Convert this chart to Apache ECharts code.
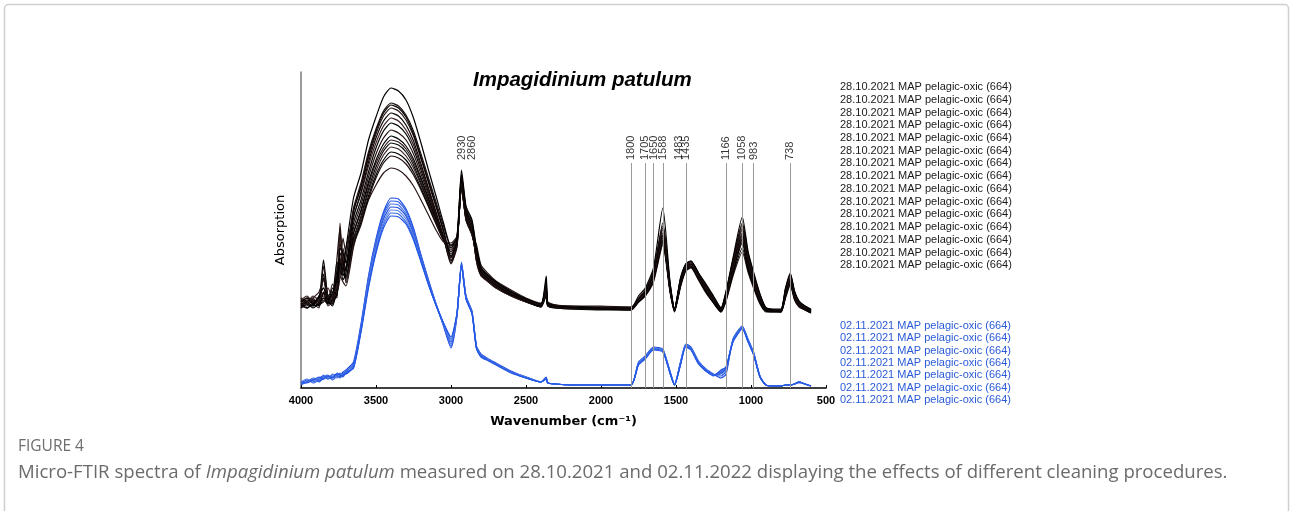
<!DOCTYPE html>
<html><head><meta charset="utf-8">
<script src="https://cdn.jsdelivr.net/npm/echarts@6/dist/echarts.min.js"></script>
<style>html,body{margin:0;padding:0;background:#fff;} #chart{width:1290px;height:511px;}</style>
</head><body><div id="chart"></div>
<script>
// Wavenumber grid (cm-1), shared by all spectra
const wavenumbers = [4000,3960,3920,3880,3850,3820,3790,3760,3740,3720,3700,
  3650,3600,3550,3500,3450,3400,3350,3300,3250,3200,3150,3100,3050,3000,
  2960,2930,2900,2860,2830,2800,2750,2700,2600,2500,2400,2365,2355,2300,2200,2000,1800,
  1750,1705,1650,1588,1540,1510,1470,1435,1400,1350,1300,1250,1200,1166,1120,1058,1020,983,940,900,850,800,770,738,710,680,640,600];

// 28.10.2021 spectra (arbitrary absorption units, stacked offset included)
const abs28_01 = [86,90,84,92,100,88,95,110,125,118,140,
  190,215,248,271,291,300,297,288,270,245,218,192,165,142,
  150,218,182,168,140,120,112,106,96,89,84,112,85,82,81,80,80,
  92,100,120,180,106,79,110,124,127,115,104,92,80,97,130,171,137,116,94,80,78,78,100,115,97,87,82,78];
const abs28_02 = [84,82,88,86,122,90,84,130,160,120,130,
  180,205,236,259,277,285,282,273,257,234,210,186,162,140,
  152,214,180,166,138,119,110,104,95,88,83,108,84,81,80,80,79,
  90,98,117,160,103,78,108,122,125,113,102,90,79,94,125,160,132,112,91,79,78,77,97,110,95,86,81,77];
const abs28_03 = [80,86,82,84,90,85,100,92,140,135,125,
  176,202,233,257,275,283,280,271,254,231,207,183,158,131,
  147,210,177,163,133,116,109,103,94,87,82,104,83,81,80,79,79,
  89,96,114,155,101,78,106,121,124,112,100,89,78,92,122,155,128,110,89,78,77,77,95,108,93,85,80,76];
const abs28_04 = [88,84,90,96,108,86,92,104,118,150,135,
  178,200,230,254,272,280,277,268,252,229,205,181,156,128,
  145,212,178,164,131,115,108,102,94,88,83,100,84,82,81,80,80,
  88,95,112,150,100,79,105,120,123,111,99,88,79,91,120,152,126,108,88,79,78,78,94,107,92,84,80,77];
const abs28_05 = [82,88,86,82,96,84,88,118,130,112,120,
  170,196,226,250,267,275,272,263,247,224,200,176,152,125,
  143,208,175,160,128,113,107,101,93,87,82,98,83,81,80,79,78,
  87,94,111,152,99,77,104,119,122,110,98,87,77,90,118,148,123,106,87,78,77,77,93,106,91,83,79,76];
const abs28_06 = [90,86,92,88,94,100,90,96,165,128,140,
  172,194,222,245,262,270,267,258,243,221,198,175,151,124,
  141,206,174,159,126,112,106,100,92,86,82,96,83,81,80,80,79,
  88,96,113,158,102,78,107,122,126,114,101,89,78,93,124,158,130,111,90,79,78,78,96,111,94,85,80,78];
const abs28_07 = [84,80,84,90,110,88,82,100,122,108,115,
  165,188,216,240,257,265,262,254,239,218,196,173,150,127,
  142,207,173,158,127,113,106,100,92,86,81,94,82,80,79,79,78,
  86,93,109,147,98,77,103,118,121,109,97,86,77,89,116,145,121,104,86,77,77,76,92,105,90,83,79,76];
const abs28_08 = [86,90,88,84,86,92,96,90,145,132,118,
  160,183,211,234,250,258,255,248,234,214,193,171,150,130,
  144,205,172,157,129,114,107,101,93,87,82,102,83,81,80,80,79,
  89,97,115,162,104,79,108,123,126,114,102,90,79,95,127,163,133,113,92,80,78,78,98,113,96,86,81,78];
const abs28_09 = [80,84,80,86,128,90,84,112,135,126,110,
  155,178,206,228,244,252,249,242,229,210,190,169,149,132,
  145,204,171,156,130,115,108,101,93,86,81,92,82,80,79,78,78,
  86,92,108,145,97,76,102,118,121,109,96,85,76,88,114,140,118,102,85,77,76,76,91,104,89,82,78,75];
const abs28_10 = [88,92,86,90,92,86,104,96,110,140,125,
  155,176,203,225,240,248,246,239,226,208,188,168,149,134,
  146,203,170,155,132,116,108,102,94,87,82,97,83,81,80,79,79,
  87,94,110,150,99,78,104,120,123,111,99,87,78,91,119,150,124,107,88,78,78,77,94,108,92,84,80,77];
const abs28_11 = [84,86,90,82,88,84,90,126,118,114,112,
  150,172,199,221,237,245,243,236,223,205,186,167,149,136,
  147,202,169,154,133,117,109,103,94,87,82,99,83,81,80,80,80,
  88,95,112,153,100,79,106,121,124,112,100,88,79,92,121,153,126,108,89,79,78,78,95,109,93,85,81,78];
const abs28_12 = [82,80,86,88,96,82,86,94,155,120,108,
  148,169,196,217,233,241,239,232,220,203,185,166,148,138,
  148,200,168,153,135,118,110,104,95,88,83,95,84,82,81,80,80,
  87,93,109,146,98,78,103,119,122,110,98,87,78,90,117,146,121,105,87,78,77,77,93,106,91,84,80,77];
const abs28_13 = [90,84,82,92,100,88,92,108,128,116,120,
  146,166,192,213,228,236,234,228,216,200,183,165,148,140,
  149,201,168,153,137,120,111,105,96,89,84,101,85,82,81,81,80,
  89,97,116,165,105,79,109,124,127,115,103,91,80,96,128,165,135,114,93,80,79,79,99,114,96,87,82,79];
const abs28_14 = [86,88,84,80,114,92,86,100,120,130,105,
  143,163,189,210,225,232,230,224,213,198,181,164,148,143,
  150,202,169,154,140,121,112,106,97,89,84,98,85,83,82,81,81,
  88,94,111,148,99,79,105,120,123,111,99,88,79,91,119,149,123,106,88,79,78,78,94,107,92,84,80,78];
const abs28_15 = [84,90,88,86,90,86,84,96,112,106,102,
  141,168,188,203,215,220,218,212,202,188,173,158,146,145,
  152,200,170,155,143,123,114,107,98,90,85,93,86,83,82,82,81,
  86,92,106,143,96,77,101,117,120,108,95,85,76,87,112,136,116,100,84,76,76,76,90,103,88,81,78,75];

// 02.11.2021 spectra
const abs02_01 = [5,8,6,10,12,9,11,14,12,16,18,
  26,64,112,149,176,190,189,179,160,133,108,84,62,40,
  72,126,92,77,42,34,29,25,17,11,6,11,5,4,3,3,3,
  26,32,41,39,17,3,26,44,41,27,19,14,10,14,49,62,49,36,12,3,2,2,3,3,4,6,4,2];
const abs02_02 = [4,7,9,6,11,13,8,12,15,11,16,
  24,62,110,147,174,187,186,177,158,132,107,84,63,42,
  73,125,91,76,41,33,28,24,16,11,6,10,5,4,3,3,3,
  25,31,40,38,16,3,25,43,40,26,18,13,12,17,48,61,48,35,11,3,2,2,3,3,4,6,4,2];
const abs02_03 = [6,9,5,8,13,10,12,10,13,14,17,
  23,61,108,145,172,184,183,174,156,131,106,84,64,44,
  73,124,91,76,41,33,28,24,16,11,6,10,5,4,3,3,3,
  25,31,40,38,16,4,25,43,40,26,18,13,14,19,48,61,48,35,11,3,2,2,3,3,4,5,4,2];
const abs02_04 = [3,6,8,7,9,12,10,13,11,15,14,
  22,60,106,142,169,181,180,172,154,130,105,83,64,46,
  74,124,90,75,40,32,28,24,16,10,6,9,5,4,3,3,3,
  24,30,39,37,15,3,24,42,39,25,17,13,15,20,47,60,47,34,11,3,2,2,3,3,4,6,4,2];
const abs02_05 = [5,7,7,9,10,11,13,11,14,12,15,
  21,58,104,140,166,178,177,169,152,128,104,83,64,47,
  74,123,90,75,40,32,28,24,16,10,6,9,5,4,3,3,3,
  24,30,39,37,15,3,24,42,39,25,17,13,17,21,47,60,47,34,11,3,2,2,3,3,4,6,4,2];
const abs02_06 = [4,6,10,8,12,9,14,12,10,13,16,
  20,57,102,137,163,175,174,166,150,127,104,83,65,49,
  75,123,90,75,40,32,28,24,16,10,6,9,5,4,3,3,3,
  24,30,39,37,15,3,24,42,39,25,17,13,16,20,47,60,47,34,11,3,2,2,3,3,4,6,4,2];
const abs02_07 = [6,5,8,11,9,12,10,15,13,12,15,
  20,56,100,135,160,172,171,164,148,126,103,83,65,51,
  75,122,89,74,39,31,27,23,15,10,6,9,5,4,3,3,3,
  23,29,38,36,15,3,23,41,38,24,17,12,18,21,46,59,46,33,11,3,2,2,3,3,4,6,4,2];

const names28 = ['28.10.2021 MAP pelagic-oxic (664)','28.10.2021 MAP pelagic-oxic (664)','28.10.2021 MAP pelagic-oxic (664)',
  '28.10.2021 MAP pelagic-oxic (664)','28.10.2021 MAP pelagic-oxic (664)','28.10.2021 MAP pelagic-oxic (664)',
  '28.10.2021 MAP pelagic-oxic (664)','28.10.2021 MAP pelagic-oxic (664)','28.10.2021 MAP pelagic-oxic (664)',
  '28.10.2021 MAP pelagic-oxic (664)','28.10.2021 MAP pelagic-oxic (664)','28.10.2021 MAP pelagic-oxic (664)',
  '28.10.2021 MAP pelagic-oxic (664)','28.10.2021 MAP pelagic-oxic (664)','28.10.2021 MAP pelagic-oxic (664)'];
const names02 = ['02.11.2021 MAP pelagic-oxic (664)','02.11.2021 MAP pelagic-oxic (664)','02.11.2021 MAP pelagic-oxic (664)',
  '02.11.2021 MAP pelagic-oxic (664)','02.11.2021 MAP pelagic-oxic (664)','02.11.2021 MAP pelagic-oxic (664)',
  '02.11.2021 MAP pelagic-oxic (664)'];

const peakLineWavenumbers = [1800,1705,1650,1588,1435,1166,1058,983,738];
const peakLabelWavenumbers = [2930,2860,1800,1705,1650,1588,1483,1435,1166,1058,983,738];

const blackColors = ['#000000','#1c0f0f','#000000','#2e1a1a','#0d0505','#3a2222','#000000','#24120f','#000000','#301c1c','#0a0a0a','#3b2525','#000000','#1f1010','#2a1616'];
const blueColors = ['#1a4be0','#2f5fe3','#4a74e6','#2252dc','#6185e8','#3a67e2','#1e55e6'];

const spectra28 = [abs28_01,abs28_02,abs28_03,abs28_04,abs28_05,abs28_06,abs28_07,abs28_08,abs28_09,abs28_10,abs28_11,abs28_12,abs28_13,abs28_14,abs28_15];
const spectra02 = [abs02_01,abs02_02,abs02_03,abs02_04,abs02_05,abs02_06,abs02_07];

const GRID = {left:301, top:72, width:525, height:316};
const LINE_TOP = 225, LABEL_BASE = 228;

function toPairs(vals){ return wavenumbers.map((w,j)=>[w, vals[j]]); }

const series = [];
spectra02.forEach((vals,i)=>series.push({type:'line', name:names02[i], data:toPairs(vals), symbol:'none', smooth:0.2,
  lineStyle:{width:1.2, color:blueColors[i]}, itemStyle:{color:blueColors[i]}, silent:true, z:2}));
spectra28.slice().reverse().forEach((vals,k)=>{const i=spectra28.length-1-k; series.push({type:'line', name:names28[i], data:toPairs(vals), symbol:'none', smooth:0.2,
  lineStyle:{width:1.2, color:blackColors[i]}, itemStyle:{color:blackColors[i]}, silent:true, z:3});});
series.push({type:'scatter', name:'peaks', data:peakLabelWavenumbers.map(w=>[w, LABEL_BASE]), symbolSize:0, silent:true, z:1,
  label:{show:true, formatter:p=>String(p.value[0]), rotate:90, position:'top', distance:0, align:'left', verticalAlign:'middle',
    color:'#000', fontSize:11, fontFamily:'Arial, Liberation Sans'},
  markLine:{silent:true, symbol:['none','none'], label:{show:false}, animation:false,
    lineStyle:{color:'#9a9a9a', width:1, type:'solid'},
    data:peakLineWavenumbers.map(w=>[{coord:[w,0]},{coord:[w,LINE_TOP]}])}});

const graphics = [
  {type:'rect', shape:{x:4.5, y:4.5, width:1284, height:600, r:4}, style:{fill:'none', stroke:'#cfcfcf', lineWidth:1.5}, silent:true},
  {type:'text', x:18, y:447, style:{text:'FIGURE 4', font:'15.5px "Open Sans"', fill:'#6e6e6e', verticalAlign:'middle'}},
  {type:'text', x:18, y:473, style:{text:'{n|Micro-FTIR spectra of }{i|Impagidinium patulum}{n| measured on 28.10.2021 and 02.11.2022 displaying the effects of different cleaning procedures.}',
    verticalAlign:'middle', rich:{n:{fontFamily:'Open Sans', fontSize:18.6, fill:'#6b6b6b', color:'#6b6b6b'}, i:{fontFamily:'Open Sans', fontStyle:'italic', fontSize:18.6, fill:'#6b6b6b', color:'#6b6b6b'}}}}
];
names28.forEach((t,i)=>graphics.push({type:'text', x:840, y:87+i*12.74, style:{text:t, font:'11px Arial, "Liberation Sans"', fill:'#1a1a1a', verticalAlign:'middle'}}));
names02.forEach((t,i)=>graphics.push({type:'text', x:840, y:325.7+i*12.4, style:{text:t, font:'11px Arial, "Liberation Sans"', fill:'#2a5bd7', verticalAlign:'middle'}}));

const chart = echarts.init(document.getElementById('chart'), null, {renderer:'canvas'});
chart.setOption({
  backgroundColor:'#ffffff',
  animation:false,
  title:{text:'Impagidinium patulum', left:468, top:65, textStyle:{fontStyle:'italic', fontWeight:'bold', fontSize:20.5, fontFamily:'Arial, Liberation Sans', color:'#000'}},
  grid:GRID,
  xAxis:{type:'value', inverse:true, min:500, max:4000, interval:500,
    axisLine:{lineStyle:{color:'#000', width:1.5}}, axisTick:{show:true, inside:true, length:3, lineStyle:{color:'#000'}},
    axisLabel:{color:'#000', fontSize:11, fontWeight:'bold', fontFamily:'Arial, Liberation Sans', margin:7, formatter:v=>String(v)},
    splitLine:{show:false},
    name:'Wavenumber (cm\u207B\u00B9)', nameLocation:'middle', nameGap:27,
    nameTextStyle:{fontFamily:'DejaVu Sans', fontSize:13, fontWeight:'bold', color:'#000'}},
  yAxis:{type:'value', min:0, max:316,
    axisLine:{show:true, lineStyle:{color:'#7a7a7a', width:1.5}}, axisTick:{show:false}, axisLabel:{show:false}, splitLine:{show:false},
    name:'Absorption', nameLocation:'middle', nameGap:14, nameTextStyle:{fontFamily:'DejaVu Sans', fontSize:13, color:'#000'}},
  series:series,
  graphic:graphics
});
</script></body></html>
